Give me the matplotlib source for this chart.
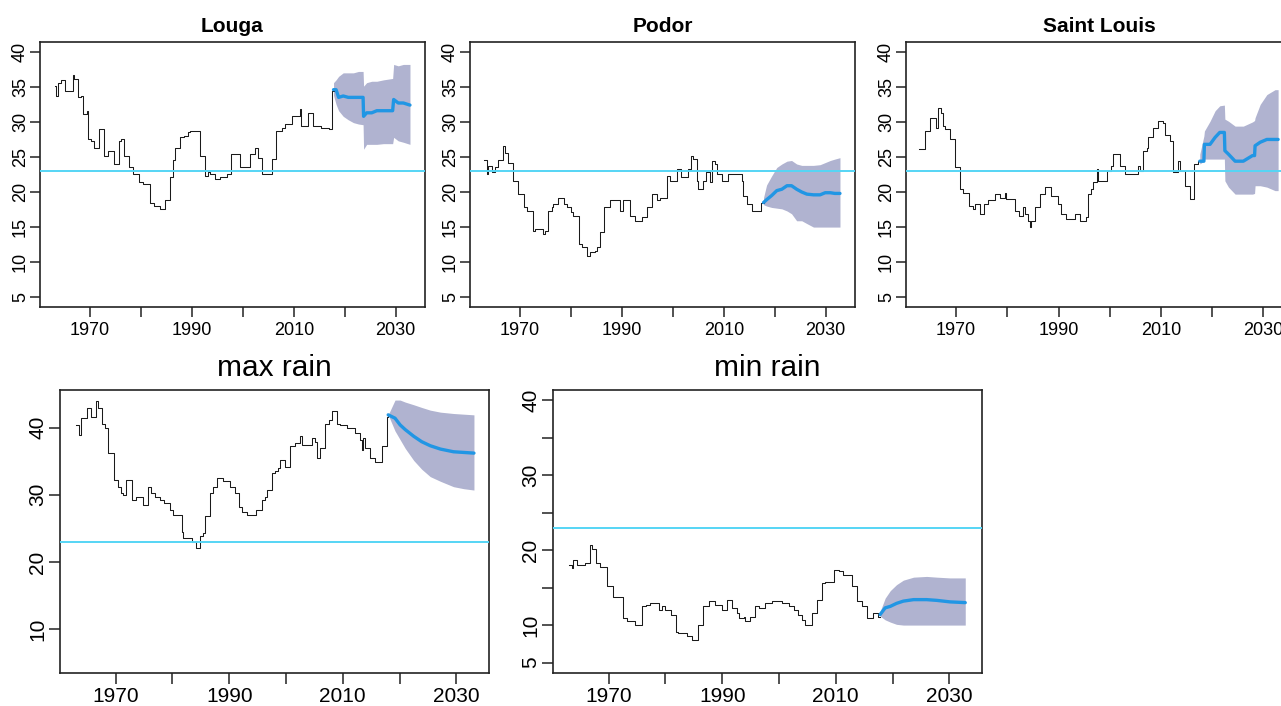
import matplotlib
matplotlib.use('Agg')
import matplotlib.pyplot as plt

plt.rcParams['font.family'] = ['Liberation Sans', 'DejaVu Sans']

# ---------------- data ----------------
louga_years = [1963.1, 1963.4, 1963.8, 1964.3, 1965.2, 1966.6, 1966.9, 1967.6, 1968.3, 1968.7,
               1969.5, 1969.7, 1970.3, 1970.8, 1971.8, 1972.7, 1973.5, 1974.7, 1975.7, 1976.0,
               1976.7, 1977.7, 1978.5, 1979.7, 1980.5, 1981.8, 1982.5, 1983.8, 1984.7, 1985.7,
               1986.3, 1986.7, 1987.7, 1988.5, 1989.2, 1989.6, 1991.6, 1992.6, 1993.2, 1993.6,
               1994.6, 1995.5, 1996.8, 1997.7, 1999.5, 2001.4, 2002.4, 2003.0, 2003.7, 2005.7,
               2006.6, 2007.6, 2008.3, 2009.6, 2011.2, 2011.5, 2012.8, 2013.8, 2015.3, 2017.0,
               2017.5, 2017.8]
louga_values = [35.1, 33.7, 35.6, 36.0, 34.4, 36.7, 36.1, 33.5, 33.7, 31.1,
                31.6, 27.5, 27.3, 26.3, 29.0, 25.2, 25.9, 24.0, 27.3, 27.5,
                25.2, 23.5, 22.6, 21.4, 21.1, 18.5, 18.0, 17.6, 18.8, 22.1,
                24.5, 26.3, 27.8, 28.0, 28.5, 28.7, 25.2, 22.3, 22.8, 22.6,
                21.8, 22.1, 22.6, 25.4, 23.5, 25.4, 26.3, 24.9, 22.6, 24.7,
                28.7, 29.2, 29.7, 30.8, 31.8, 29.4, 31.3, 29.4, 29.2, 29.0,
                34.4, 34.6]
louga_fc_years = [2017.8, 2018.3, 2018.8, 2019.7, 2020.7, 2021.7, 2022.7, 2023.6, 2023.7, 2024.3,
                  2025.3, 2026.3, 2027.6, 2029.4, 2029.6, 2030.5, 2031.5, 2032.8]
louga_fc_mean = [34.6, 34.6, 33.5, 33.7, 33.5, 33.5, 33.5, 33.5, 30.8, 31.3,
                 31.3, 31.6, 31.6, 31.6, 33.2, 32.7, 32.7, 32.4]
louga_fc_upper = [35.6, 36.0, 36.5, 37.0, 37.0, 37.0, 37.2, 37.2, 35.1, 35.6,
                  35.8, 35.8, 36.0, 36.2, 38.2, 38.0, 38.2, 38.2]
louga_fc_lower = [33.8, 32.5, 31.6, 30.8, 30.3, 29.9, 29.7, 29.6, 26.1, 26.8,
                  26.8, 26.8, 26.9, 26.9, 27.8, 27.3, 27.1, 26.8]

podor_years = [1963.0, 1963.5, 1963.8, 1964.6, 1965.1, 1965.7, 1966.6, 1967.1, 1967.7, 1968.7,
               1969.7, 1970.8, 1971.3, 1972.5, 1972.9, 1974.6, 1974.9, 1975.6, 1976.2, 1976.5,
               1977.5, 1978.6, 1979.2, 1980.1, 1980.5, 1981.5, 1982.1, 1983.1, 1983.7, 1984.7,
               1985.1, 1985.8, 1986.5, 1987.7, 1989.6, 1990.3, 1991.6, 1992.6, 1993.9, 1994.9,
               1996.0, 1996.8, 1997.5, 1998.8, 1999.5, 2000.8, 2001.7, 2003.0, 2003.6, 2004.0,
               2004.7, 2005.0, 2006.0, 2006.6, 2007.3, 2007.6, 2008.3, 2008.7, 2009.6, 2010.9,
               2013.5, 2013.8, 2014.5, 2015.5, 2017.4, 2017.8]
podor_values = [24.5, 22.6, 23.7, 22.8, 23.5, 24.5, 26.6, 25.6, 24.2, 21.6,
                19.7, 17.8, 17.3, 14.5, 14.7, 14.0, 14.5, 17.3, 17.8, 18.3,
                19.2, 18.3, 17.8, 17.1, 16.6, 12.6, 12.1, 10.9, 11.4, 11.6,
                12.1, 14.3, 17.8, 18.8, 17.3, 18.8, 16.6, 15.9, 16.4, 17.8,
                19.7, 18.8, 19.2, 22.3, 21.6, 23.3, 22.1, 23.3, 25.2, 24.7,
                21.6, 20.4, 21.6, 22.8, 21.4, 24.4, 24.0, 22.6, 21.6, 22.6,
                21.6, 19.5, 18.3, 17.3, 18.5, 18.5]
podor_fc_years = [2017.8, 2018.4, 2019.4, 2020.4, 2021.4, 2022.4, 2023.3, 2024.3, 2025.3, 2026.3,
                  2027.6, 2028.9, 2029.9, 2030.9, 2031.8, 2032.8]
podor_fc_mean = [18.5, 18.9, 19.5, 20.2, 20.4, 20.9, 20.9, 20.4, 20.0, 19.7,
                 19.6, 19.6, 19.9, 19.9, 19.8, 19.8]
podor_fc_upper = [19.2, 21.0, 22.3, 23.5, 24.0, 24.4, 24.5, 24.0, 23.8, 23.8,
                  23.8, 23.9, 24.2, 24.5, 24.7, 24.9]
podor_fc_lower = [18.2, 18.0, 17.8, 17.7, 17.6, 17.3, 16.9, 15.9, 15.9, 15.5,
                  15.0, 15.0, 15.0, 15.0, 15.0, 15.0]

stlouis_years = [1962.8, 1964.0, 1964.8, 1966.0, 1966.5, 1967.1, 1967.5, 1967.9, 1968.7, 1969.7,
                 1970.7, 1971.3, 1972.6, 1973.3, 1973.6, 1974.6, 1975.5, 1976.2, 1977.5, 1978.5,
                 1979.6, 1979.8, 1981.4, 1982.3, 1983.0, 1983.4, 1984.0, 1984.5, 1984.7, 1985.5,
                 1986.3, 1987.3, 1988.6, 1989.9, 1990.5, 1991.5, 1993.2, 1994.1, 1995.4, 1995.8,
                 1996.4, 1996.7, 1997.5, 1997.7, 1999.4, 2000.3, 2000.7, 2002.0, 2002.9, 2005.6,
                 2005.9, 2006.5, 2007.2, 2007.5, 2008.5, 2009.5, 2010.4, 2010.8, 2011.7, 2012.4,
                 2013.4, 2013.7, 2014.7, 2015.7, 2016.5, 2017.3, 2017.6]
stlouis_values = [26.1, 28.7, 30.6, 29.2, 32.0, 31.3, 29.4, 29.0, 27.5, 23.5,
                  20.4, 19.9, 18.0, 17.6, 18.3, 16.9, 18.3, 18.8, 19.7, 19.2,
                  19.9, 19.0, 17.3, 16.6, 17.8, 16.9, 15.9, 15.0, 15.9, 17.8,
                  19.7, 20.7, 19.5, 18.3, 16.9, 16.2, 16.9, 15.9, 16.4, 19.7,
                  20.4, 21.4, 23.3, 21.6, 23.0, 23.7, 25.4, 23.7, 22.6, 23.7,
                  23.0, 25.9, 26.3, 27.8, 29.2, 30.1, 29.9, 28.2, 27.3, 22.8,
                  24.4, 23.0, 20.9, 19.0, 24.0, 24.4, 24.4]
stlouis_fc_years = [2017.6, 2018.4, 2018.5, 2019.6, 2020.6, 2021.5, 2022.4, 2022.5, 2023.2, 2024.5,
                    2026.1, 2027.9, 2028.3, 2028.4, 2029.4, 2030.7, 2032.3, 2032.9]
stlouis_fc_mean = [24.4, 24.4, 26.8, 26.8, 27.8, 28.5, 28.5, 25.9, 25.4, 24.4,
                   24.4, 25.2, 25.2, 26.6, 27.1, 27.5, 27.5, 27.5]
stlouis_fc_upper = [25.4, 28.0, 28.7, 30.1, 31.6, 32.3, 32.4, 30.4, 30.1, 29.4,
                    29.4, 30.0, 30.2, 30.6, 32.5, 33.9, 34.6, 34.6]
stlouis_fc_lower = [24.0, 24.4, 24.7, 24.7, 24.7, 24.7, 24.7, 21.6, 20.7, 19.7,
                    19.7, 19.7, 19.8, 20.9, 20.9, 20.7, 20.2, 20.2]

maxrain_years = [1963.1, 1963.5, 1963.9, 1964.9, 1965.7, 1966.6, 1966.9, 1967.6, 1968.1, 1968.6,
                 1969.7, 1970.4, 1971.0, 1971.3, 1971.8, 1972.8, 1973.6, 1974.8, 1975.7, 1976.3,
                 1976.9, 1977.8, 1978.6, 1979.5, 1980.1, 1981.6, 1981.9, 1983.4, 1984.2, 1984.8,
                 1985.4, 1985.7, 1986.7, 1987.2, 1987.8, 1988.9, 1990.1, 1991.0, 1991.8, 1992.2,
                 1993.1, 1994.8, 1995.7, 1996.3, 1996.6, 1997.5, 1998.1, 1998.6, 1998.9, 1999.8,
                 2000.7, 2001.6, 2002.5, 2002.8, 2004.5, 2005.1, 2005.4, 2006.0, 2006.9, 2007.5,
                 2008.1, 2008.9, 2009.5, 2010.7, 2012.2, 2013.1, 2013.4, 2013.6, 2013.9, 2014.8,
                 2015.7, 2016.9, 2017.8, 2018.0]
maxrain_values = [40.4, 38.9, 41.4, 42.9, 41.6, 43.9, 42.9, 40.6, 39.9, 36.2,
                  32.2, 31.2, 30.2, 30.0, 32.2, 29.2, 29.7, 28.5, 31.2, 30.2,
                  29.7, 29.2, 28.7, 27.8, 27.0, 24.5, 23.5, 23.0, 22.1, 23.8,
                  24.3, 26.8, 30.2, 31.2, 32.5, 32.0, 31.2, 30.2, 28.2, 27.5,
                  27.0, 27.8, 29.2, 29.7, 30.7, 33.2, 33.5, 34.0, 35.2, 34.2,
                  37.2, 37.7, 38.7, 37.4, 38.4, 37.9, 35.4, 36.9, 40.6, 41.1,
                  42.4, 40.6, 40.4, 39.9, 39.2, 38.2, 36.7, 38.4, 36.9, 35.4,
                  34.9, 37.2, 41.6, 41.8]
maxrain_fc_years = [2018.0, 2019.2, 2020.1, 2021.0, 2022.5, 2023.9, 2025.4, 2027.2, 2029.5, 2031.3,
                    2033.1]
maxrain_fc_mean = [41.9, 41.4, 40.4, 39.7, 38.7, 37.9, 37.3, 36.8, 36.4, 36.3, 36.2]
maxrain_fc_upper = [41.9, 44.1, 44.1, 43.8, 43.4, 43.0, 42.6, 42.3, 42.1, 42.0, 41.9]
maxrain_fc_lower = [41.9, 39.5, 38.2, 36.9, 35.1, 33.8, 32.7, 32.0, 31.2, 30.9, 30.7]

minrain_years = [1963.0, 1963.5, 1963.8, 1964.4, 1965.9, 1966.7, 1967.1, 1967.7, 1968.5, 1969.7,
                 1970.8, 1972.6, 1973.2, 1974.7, 1975.9, 1976.5, 1977.3, 1978.8, 1979.4, 1980.0,
                 1980.9, 1981.9, 1982.3, 1983.8, 1984.7, 1985.8, 1986.7, 1987.6, 1988.8, 1989.9,
                 1990.8, 1991.7, 1992.6, 1992.9, 1993.8, 1994.0, 1994.9, 1995.8, 1996.4, 1997.6,
                 1998.7, 2000.5, 2001.7, 2002.6, 2003.4, 2004.0, 2004.6, 2005.8, 2006.7, 2007.5,
                 2008.1, 2009.6, 2010.5, 2011.3, 2012.8, 2013.7, 2014.6, 2015.5, 2016.6, 2017.5,
                 2017.8]
minrain_values = [18.0, 17.6, 18.7, 18.0, 18.3, 20.7, 20.1, 18.3, 17.8, 15.2,
                  13.8, 10.9, 10.5, 10.0, 12.5, 12.7, 12.9, 12.0, 12.5, 12.0,
                  11.4, 9.1, 8.9, 8.5, 8.0, 10.0, 12.5, 13.2, 12.7, 12.0,
                  13.4, 12.3, 11.6, 10.9, 11.1, 10.5, 11.1, 12.5, 12.3, 12.9,
                  13.2, 12.9, 12.5, 12.0, 11.4, 10.7, 10.0, 11.6, 13.4, 15.6,
                  15.8, 17.4, 17.2, 16.7, 15.2, 13.2, 12.5, 10.9, 11.6, 11.1,
                  11.1]
minrain_fc_years = [2017.8, 2018.7, 2019.6, 2020.7, 2021.9, 2023.7, 2026.0, 2027.8, 2030.1, 2032.8]
minrain_fc_mean = [11.4, 12.3, 12.5, 12.9, 13.2, 13.4, 13.4, 13.3, 13.1, 13.0]
minrain_fc_upper = [11.8, 13.6, 14.6, 15.4, 16.0, 16.4, 16.5, 16.4, 16.3, 16.3]
minrain_fc_lower = [11.2, 10.7, 10.4, 10.1, 10.0, 10.0, 10.0, 10.0, 10.0, 10.0]

threshold = 23
x_ticks = [1970, 1980, 1990, 2000, 2010, 2020, 2030]
x_labels = ['1970', '', '1990', '', '2010', '', '2030']
top_y_ticks = [5, 10, 15, 20, 25, 30, 35, 40]
top_y_labels = ['5', '10', '15', '20', '25', '30', '35', '40']
max_y_ticks = [10, 20, 30, 40]
max_y_labels = ['10', '20', '30', '40']
min_y_ticks = [5, 10, 15, 20, 25, 30, 35, 40]
min_y_labels = ['5', '10', '', '20', '', '30', '', '40']

# ---------------- drawing ----------------
W, H = 1281, 706
fig = plt.figure(figsize=(W / 100, H / 100), dpi=100)

BAND = '#B0B3D0'
BLUE = '#2196E4'
CYAN = '#55D5F5'
HIST = '#1a1a1a'

panels = [
    dict(title='Louga', box=(40, 42, 425, 307), hist=(louga_years, louga_values),
         fc=(louga_fc_years, louga_fc_mean, louga_fc_lower, louga_fc_upper),
         yt=(top_y_ticks, top_y_labels), ylim=(3.6, 41.4), top=True),
    dict(title='Podor', box=(470, 42, 855, 307), hist=(podor_years, podor_values),
         fc=(podor_fc_years, podor_fc_mean, podor_fc_lower, podor_fc_upper),
         yt=(top_y_ticks, top_y_labels), ylim=(3.6, 41.4), top=True),
    dict(title='Saint Louis', box=(906, 42, 1292.7, 307), hist=(stlouis_years, stlouis_values),
         fc=(stlouis_fc_years, stlouis_fc_mean, stlouis_fc_lower, stlouis_fc_upper),
         yt=(top_y_ticks, top_y_labels), ylim=(3.6, 41.4), top=True),
    dict(title='max rain', box=(60, 390, 489, 673), hist=(maxrain_years, maxrain_values),
         fc=(maxrain_fc_years, maxrain_fc_mean, maxrain_fc_lower, maxrain_fc_upper),
         yt=(max_y_ticks, max_y_labels), ylim=(3.45, 45.6), top=False),
    dict(title='min rain', box=(553, 390, 982, 673), hist=(minrain_years, minrain_values),
         fc=(minrain_fc_years, minrain_fc_mean, minrain_fc_lower, minrain_fc_upper),
         yt=(min_y_ticks, min_y_labels), ylim=(3.6, 41.4), top=False),
]

for p in panels:
    x0, y0, x1, y1 = p['box']
    ax = fig.add_axes([x0 / W, 1 - y1 / H, (x1 - x0) / W, (y1 - y0) / H])
    fy, fm, flo, fup = p['fc']
    ax.fill_between(fy, flo, fup, color=BAND, linewidth=0, zorder=1)
    hy, hv = p['hist']
    ax.step(hy, hv, where='post', color=HIST, linewidth=0.75, zorder=2)
    ax.plot(fy, fm, color=BLUE, linewidth=2.4, zorder=3, solid_capstyle='round')
    ax.axhline(threshold, color=CYAN, linewidth=1.4, zorder=4)

    ax.set_xlim(1960.2, 2035.75)
    ax.set_ylim(*p['ylim'])
    ax.set_xticks(x_ticks, x_labels)
    ax.set_yticks(p['yt'][0], p['yt'][1])
    for s in ax.spines.values():
        s.set_linewidth(1.2)
        s.set_color('#222222')
    if p['top']:
        fs, tl, xpad, ypad = 13, 7.4, 3.6, 0.5
        ax.set_title(p['title'], fontsize=15, fontweight='bold', pad=7.4)
    else:
        fs, tl, xpad, ypad = 15, 8.2, 1.6, 1.0
        ax.set_title(p['title'], fontsize=21.5, pad=10)
    ax.tick_params(axis='both', direction='out', length=tl, width=1.1, color='#222222',
                   labelsize=fs)
    ax.tick_params(axis='x', pad=xpad)
    ax.tick_params(axis='y', pad=ypad)
    for lab in ax.get_yticklabels():
        lab.set_rotation(90)
        lab.set_va('center')

fig.savefig('out.png', dpi=100)
